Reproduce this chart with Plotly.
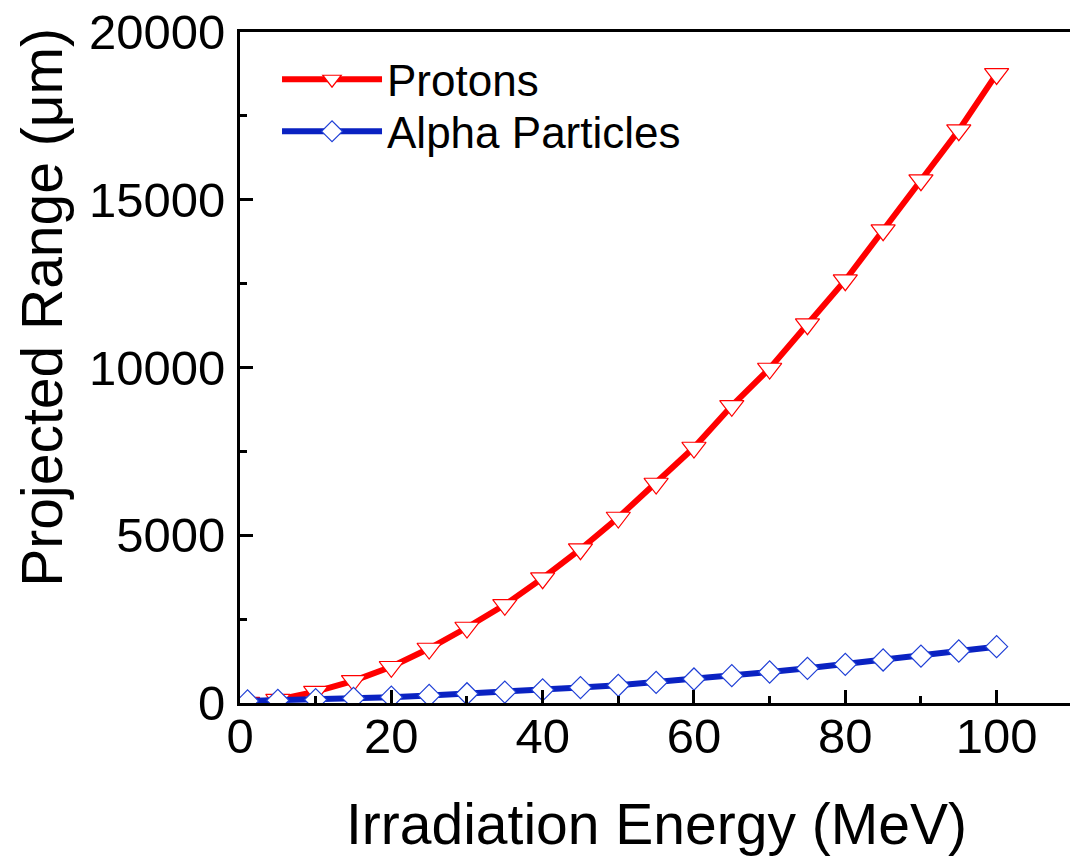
import plotly.graph_objects as go

energy = [1, 5, 10, 15, 20, 25, 30, 35, 40, 45, 50, 55, 60, 65, 70, 75, 80, 85, 90, 95, 100]
protons = [10, 100, 340, 662, 1080, 1624, 2250, 2927, 3720, 4584, 5529, 6542, 7615, 8858,
           9970, 11291, 12602, 14092, 15583, 17073, 18750]
alpha = [60, 80, 100, 140, 175, 225, 275, 325, 393, 460, 528, 617, 715, 814, 924, 1034,
         1153, 1282, 1400, 1550, 1678]

x_ticks = [0, 20, 40, 60, 80, 100]
y_ticks = [0, 5000, 10000, 15000, 20000]
y_ticktext = ["0", "5000", "10000", "15000", "20000"]

FONT = "Liberation Sans, Arial, sans-serif"

fig = go.Figure()
fig.add_trace(go.Scatter(
    x=energy, y=protons, name="Protons", mode="lines+markers",
    line=dict(color="#FF0000", width=6),
    marker=dict(symbol="triangle-down", size=21, color="white",
                line=dict(color="#FF0000", width=1.2)),
    legend="legend",
))
fig.add_trace(go.Scatter(
    x=energy, y=alpha, name="Alpha Particles", mode="lines+markers",
    line=dict(color="#0a22c2", width=6),
    marker=dict(symbol="diamond", size=17, color="white",
                line=dict(color="#1f3fd6", width=1.2)),
    legend="legend2",
))

axis_common = dict(
    showline=True, linecolor="black", linewidth=3,
    ticks="inside", ticklen=13, tickwidth=2.5, tickcolor="black",
    showgrid=False, zeroline=False,
    tickfont=dict(family=FONT, size=49, color="black"),
)

fig.update_xaxes(
    range=[0, 109.7], tickvals=x_ticks, mirror=True,
    minor=dict(ticks="inside", ticklen=7, tickwidth=2.5, tickcolor="black", dtick=10, tick0=0),
    ticklabelstandoff=-12,
    **axis_common,
)
fig.update_yaxes(
    range=[0, 20000], tickvals=y_ticks, ticktext=y_ticktext,
    minor=dict(ticks="inside", ticklen=7, tickwidth=2.5, tickcolor="black", dtick=2500, tick0=0),
    ticklabelstandoff=2,
    **axis_common,
)

fig.add_annotation(
    text="Irradiation Energy (MeV)", xref="paper", yref="paper",
    x=0.502, y=-0.18, showarrow=False, xanchor="center", yanchor="middle",
    font=dict(family=FONT, size=57, color="black"),
)
fig.add_annotation(
    text="Projected Range (μm)", xref="paper", yref="paper",
    x=-0.2386, y=0.5906, showarrow=False, xanchor="center", yanchor="middle",
    textangle=-90, font=dict(family=FONT, size=57, color="black"),
)

legend_common = dict(
    xanchor="left", yanchor="middle",
    font=dict(family=FONT, size=44, color="black"),
    bgcolor="rgba(0,0,0,0)", itemwidth=100,
)

fig.update_layout(
    width=1070, height=861,
    margin=dict(l=240, r=0, t=32, b=158),
    paper_bgcolor="white", plot_bgcolor="white",
    showlegend=True,
    legend=dict(x=0.0446, y=0.929, **legend_common),
    legend2=dict(x=0.0446, y=0.8514, **legend_common),
)

fig.write_html("out.html")
